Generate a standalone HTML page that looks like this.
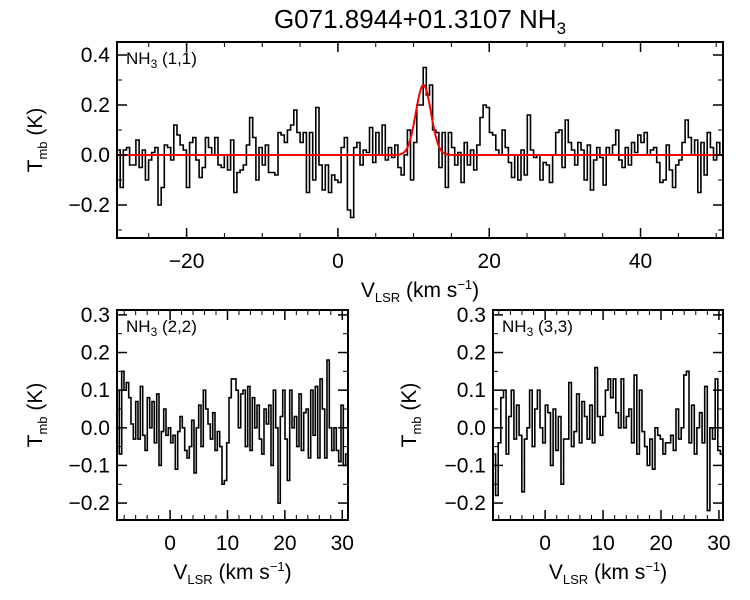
<!DOCTYPE html>
<html><head><meta charset="utf-8"><style>
body{margin:0;background:#fff;}
svg{display:block;font-family:"Liberation Sans",sans-serif;}
</style></head><body>
<svg id="c" width="750" height="600" viewBox="0 0 750 600">
<text x="420" y="28" font-size="26" text-anchor="middle">G071.8944+01.3107 NH<tspan font-size="17" dy="6">3</tspan></text>
</svg>
<script>
const topValues=[0.02,-0.13,0.02,0.03,-0.04,-0.04,0.06,-0.05,0.02,-0.1,-0.02,0.01,0.03,-0.2,-0.13,0.04,0.03,-0.02,0.12,0.08,0.04,0.02,-0.13,0.05,0.07,-0.02,-0.09,-0.05,0.07,0.03,0.0,0.07,-0.04,-0.05,0.0,-0.06,0.06,-0.15,-0.07,-0.06,-0.04,0.04,0.15,0.07,-0.1,0.03,-0.04,0.04,-0.07,-0.07,-0.08,0.09,0.08,0.05,0.1,0.12,0.18,0.09,0.05,0.09,-0.15,0.09,-0.1,0.19,-0.04,-0.14,-0.04,-0.15,-0.08,-0.1,-0.11,0.03,0.07,-0.22,-0.25,0.03,0.05,-0.04,0.02,0.01,0.11,-0.03,0.09,0.0,0.12,-0.02,0.03,-0.01,0.04,-0.05,-0.08,0.0,0.1,-0.1,0.05,0.2,0.2,0.35,0.24,0.28,0.1,0.09,-0.05,0.09,-0.13,0.09,0.03,-0.04,0.01,-0.11,0.05,-0.04,0.02,-0.06,0.04,0.15,0.2,0.19,0.09,0.08,0.02,0.0,0.1,0.03,-0.03,-0.09,0.0,-0.1,0.02,-0.08,0.16,0.02,-0.01,0.0,-0.1,-0.03,-0.04,-0.11,0.0,0.09,0.1,-0.05,0.14,0.05,0.02,-0.04,0.05,0.02,-0.1,0.04,-0.14,-0.02,0.03,-0.01,-0.12,0.03,0.0,0.04,0.1,-0.02,-0.05,0.03,-0.04,0.05,0.01,0.08,0.05,0.09,0.0,0.02,0.03,-0.03,-0.11,-0.1,0.04,-0.06,-0.13,-0.04,-0.02,0.05,0.14,0.07,0.0,0.06,-0.15,0.05,-0.08,0.09,0.03,-0.02,0.05,0.0];
const fitAmp=[0.28];
const fitCenter=[11.3];
const fitSigma=[1.0];
const v22Values=[0.1,-0.07,0.15,0.1,0.12,0.08,0.01,-0.03,0.07,-0.03,0.11,-0.02,-0.06,0.08,0.0,0.07,-0.04,0.09,-0.1,-0.01,0.05,-0.02,0.0,-0.04,-0.02,-0.11,-0.01,0.03,0.0,-0.06,-0.08,-0.05,0.02,-0.12,0.0,0.06,-0.05,0.1,0.05,0.01,-0.03,0.04,-0.06,-0.01,-0.05,-0.15,-0.14,-0.04,0.08,0.13,0.13,0.1,0.0,0.09,0.1,-0.05,0.11,-0.06,0.08,0.0,0.06,-0.03,-0.07,0.05,0.01,0.06,-0.1,0.1,0.0,-0.2,0.03,0.1,-0.03,-0.14,0.1,0.0,0.03,-0.05,0.09,-0.06,0.04,0.05,-0.08,0.1,-0.02,0.11,-0.08,0.13,0.05,-0.08,0.18,0.0,-0.06,0.0,-0.06,-0.09,0.06,-0.1,-0.07];
const v33Values=[-0.07,-0.18,-0.04,0.08,0.1,-0.07,0.03,0.1,-0.03,0.06,-0.02,-0.17,-0.03,0.0,0.1,-0.05,0.05,0.1,0.0,-0.04,0.06,0.04,-0.1,0.05,-0.06,0.03,-0.15,-0.03,-0.03,0.12,-0.05,-0.01,0.09,-0.04,0.07,0.03,-0.03,0.06,-0.04,0.16,0.03,-0.02,0.03,0.1,0.13,0.08,0.13,0.04,0.0,0.13,0.0,0.03,0.05,-0.04,0.14,-0.07,0.1,-0.01,-0.05,-0.1,-0.03,-0.11,0.0,-0.02,-0.03,-0.07,-0.04,-0.04,-0.02,-0.06,0.05,-0.03,0.0,0.14,0.15,-0.04,0.06,-0.07,0.0,0.04,-0.04,0.11,-0.22,0.0,-0.03,0.13,-0.06,-0.07];
const topXTicks=[-20,0,20,40];
const topYTicks=[-0.2,0.0,0.2,0.4];
const botXTicks=[0,10,20,30];
const botYTicks=[-0.2,-0.1,0.0,0.1,0.2,0.3];

const svg=document.getElementById('c');
const NS='http://www.w3.org/2000/svg';
function mk(tag,attrs,parent){const e=document.createElementNS(NS,tag);for(const k in attrs)e.setAttribute(k,attrs[k]);(parent||svg).appendChild(e);return e;}

function panel(p){
  const g=mk('g',{});
  
  
  const sx=v=>p.x0+(v-p.xmin)/(p.xmax-p.xmin)*(p.x1-p.x0);
  const sy=v=>p.y1-(v-p.ymin)/(p.ymax-p.ymin)*(p.y1-p.y0);
  const n=p.values.length, dv=(p.xmax-p.xmin)/n;
  let d='';
  for(let i=0;i<n;i++){
    const xa=sx(p.xmin+i*dv), xb=sx(p.xmin+(i+1)*dv), y=sy(p.values[i]);
    d+=(i===0?'M':'L')+xa.toFixed(1)+','+y.toFixed(1)+'L'+xb.toFixed(1)+','+y.toFixed(1);
  }
  const line=mk('path',{d:d,fill:'none',stroke:'#000','stroke-width':1.6},g);
  
  
  if(p.fit){
    let fd='';
    for(let v=p.xmin;v<=p.xmax;v+=0.1){
      const y=fitAmp[0]*Math.exp(-0.5*Math.pow((v-fitCenter[0])/fitSigma[0],2));
      fd+=(fd?'L':'M')+sx(v).toFixed(1)+','+sy(y).toFixed(1);
    }
    const f=mk('path',{d:fd,fill:'none',stroke:'#f00','stroke-width':2},g);
    
    
  }
  const fr=mk('rect',{x:p.x0,y:p.y0,width:p.x1-p.x0,height:p.y1-p.y0,fill:'none',stroke:'#000','stroke-width':2},g);
  
  
  for(let v=Math.ceil(p.xmin/p.xminor)*p.xminor;v<=p.xmax;v+=p.xminor){
    const x=sx(v);
    mk('line',{x1:x,x2:x,y1:p.y1,y2:p.y1-5,stroke:'#000','stroke-width':1},g);
    mk('line',{x1:x,x2:x,y1:p.y0,y2:p.y0+5,stroke:'#000','stroke-width':1},g);
  }
  for(let v=Math.ceil(p.ymin/p.yminor-1e-9)*p.yminor;v<=p.ymax;v+=p.yminor){
    const y=sy(v);
    mk('line',{x1:p.x0,x2:p.x0+5,y1:y,y2:y,stroke:'#000','stroke-width':1},g);
    mk('line',{x1:p.x1,x2:p.x1-5,y1:y,y2:y,stroke:'#000','stroke-width':1},g);
  }
  p.xticks.forEach(v=>{
    const x=sx(v);
    mk('line',{x1:x,x2:x,y1:p.y1,y2:p.y1-10,stroke:'#000','stroke-width':1.5},g);
    mk('line',{x1:x,x2:x,y1:p.y0,y2:p.y0+10,stroke:'#000','stroke-width':1.5},g);
    const t=mk('text',{x:x,y:p.y1+30,'font-size':21,'text-anchor':'middle'},g);
    t.textContent=(v<0?'\u2212'+(-v):String(v));
    
    
  });
  p.yticks.forEach(v=>{
    const y=sy(v);
    mk('line',{x1:p.x0,x2:p.x0+10,y1:y,y2:y,stroke:'#000','stroke-width':1.5},g);
    mk('line',{x1:p.x1,x2:p.x1-10,y1:y,y2:y,stroke:'#000','stroke-width':1.5},g);
    const t=mk('text',{x:p.x0-7,y:y+7,'font-size':21,'text-anchor':'end'},g);
    t.textContent=(v<0?'\u2212':'')+Math.abs(v).toFixed(1);
    
    
  });
  const lab=mk('text',{x:p.x0+9,y:p.y0+22,'font-size':17},g);
  lab.innerHTML='NH<tspan font-size="12" dy="4">3</tspan><tspan dy="-4"> '+p.label+'</tspan>';
  
  
  const xt=mk('text',{x:(p.x0+p.x1)/2,y:p.y1+59,'font-size':21,'text-anchor':'middle'},g);
  xt.innerHTML='V<tspan font-size="13" dy="5">LSR</tspan><tspan dy="-5"> (km s</tspan><tspan font-size="13" dy="-8">\u22121</tspan><tspan dy="8">)</tspan>';
  
  
  const cy=(p.y0+p.y1)/2, cx=p.ytx;
  const yt=mk('text',{x:cx,y:cy,'font-size':21,'text-anchor':'middle',transform:'rotate(-90 '+cx+' '+cy+')'},g);
  yt.innerHTML='T<tspan font-size="13" dy="5">mb</tspan><tspan dy="-5"> (K)</tspan>';
  
  
}
panel({name:'nh3-11-panel',x0:117,x1:723,y0:42,y1:238,xmin:-29.2,xmax:50.9,ymin:-0.332,ymax:0.452,values:topValues,fit:true,xticks:topXTicks,yticks:topYTicks,xminor:5,yminor:0.1,label:'(1,1)',ytx:42});
panel({name:'nh3-22-panel',x0:117,x1:348,y0:310,y1:520,xmin:-9.25,xmax:31.0,ymin:-0.245,ymax:0.313,values:v22Values,fit:false,xticks:botXTicks,yticks:botYTicks,xminor:2,yminor:0.05,label:'(2,2)',ytx:42});
panel({name:'nh3-33-panel',x0:493,x1:723,y0:310,y1:520,xmin:-9.0,xmax:30.7,ymin:-0.245,ymax:0.313,values:v33Values,fit:false,xticks:botXTicks,yticks:botYTicks,xminor:2,yminor:0.05,label:'(3,3)',ytx:416});
</script>
</body></html>
